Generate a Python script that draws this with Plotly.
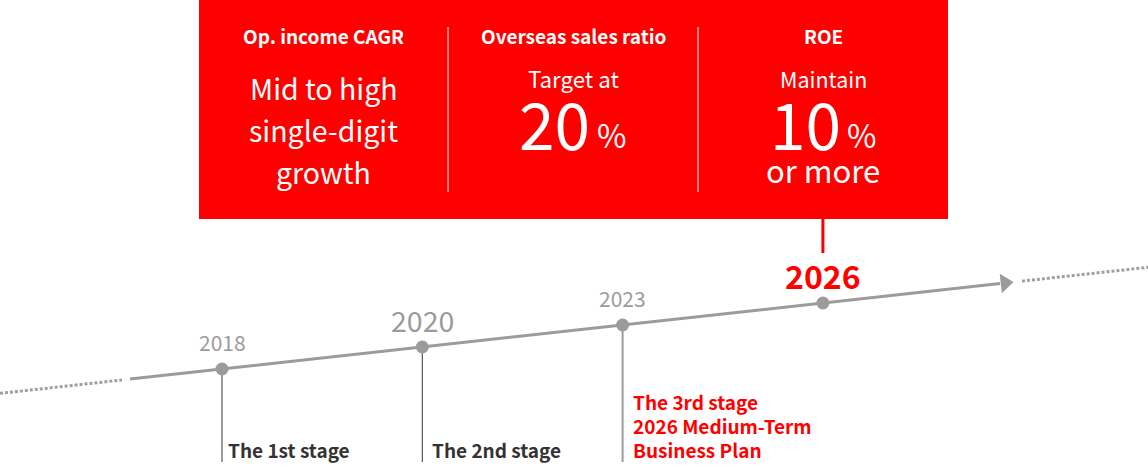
import plotly.graph_objects as go

# --- dados ---
years = ["2018", "2020", "2023", "2026"]
stage_labels = [
    ["The 1st stage"],
    ["The 2nd stage"],
    ["The 3rd stage", "2026 Medium-Term", "Business Plan"],
]
kpi_titles = ["Op. income CAGR", "Overseas sales ratio", "ROE"]
cagr_text = ["Mid to high", "single-digit", "growth"]
overseas_lead = "Target at"
overseas_value = 20
roe_lead = "Maintain"
roe_value = 10
roe_tail = "or more"

FONT = "Noto Sans CJK JP"
RED = "#ff0000"
GREY = "#9b9b9b"
DARK = "#333333"
W, H = 1148, 474

# geometria da linha do tempo (pixels)
X0, STEP = 222, 200.3
Y0, RISE = 369, 22.0
SLOPE = RISE / STEP


def line_y(x):
    return Y0 - SLOPE * (x - X0)


dot_x = [X0 + STEP * i for i in range(len(years))]
dot_y = [line_y(x) for x in dot_x]

fig = go.Figure()

# linhas pontilhadas nas pontas
for xa, xb in [(0, 122), (1022, W)]:
    fig.add_trace(go.Scatter(
        x=[xa, xb], y=[line_y(xa), line_y(xb)], mode="lines",
        line=dict(color="#a0a0a0", width=3, dash="3px,2px"), hoverinfo="skip"
    ))

# linha principal + seta
fig.add_trace(go.Scatter(
    x=[130, 1000], y=[line_y(130), line_y(1000)], mode="lines",
    line=dict(color=GREY, width=3), hoverinfo="skip"
))
fig.add_trace(go.Scatter(
    x=[1005], y=[line_y(1005)], mode="markers",
    marker=dict(symbol="triangle-right", size=17, color=GREY, angle=-6.3),
    hoverinfo="skip"
))

shapes = []
# hastes verticais
stem_colors = [GREY, DARK, GREY]
stem_widths = [2, 1, 2]
for i in range(3):
    shapes.append(dict(type="line", xref="x", yref="y",
                       x0=dot_x[i], x1=dot_x[i], y0=dot_y[i], y1=462,
                       line=dict(color=stem_colors[i], width=stem_widths[i]), layer="below"))

# caixa vermelha
shapes.append(dict(type="rect", xref="x", yref="y", x0=199, x1=948, y0=0, y1=219,
                   fillcolor=RED, line=dict(width=0), layer="below"))
for xd in [448, 698]:
    shapes.append(dict(type="line", xref="x", yref="y", x0=xd, x1=xd, y0=27, y1=192,
                       line=dict(color="white", width=1)))
# conector 2026
shapes.append(dict(type="line", xref="x", yref="y", x0=dot_x[3], x1=dot_x[3], y0=219, y1=253,
                   line=dict(color=RED, width=3)))

# pontos
fig.add_trace(go.Scatter(
    x=dot_x, y=dot_y, mode="markers",
    marker=dict(size=13, color=GREY), hoverinfo="skip"
))

annotations = []


def txt(x, y, s, size, color, xanchor="center", bold=False):
    if bold:
        s = "<b>" + s + "</b>"
    annotations.append(dict(
        x=x, y=y, xref="x", yref="y", text=s, showarrow=False,
        xanchor=xanchor, yanchor="middle",
        font=dict(family=FONT, size=size, color=color)
    ))


# anos
year_sizes = [21, 28.5, 21, 32]
year_colors = [GREY, GREY, GREY, RED]
year_bold = [False, False, False, True]
for i, yr in enumerate(years):
    txt(dot_x[i], dot_y[i] - 25 - 0.1 * year_sizes[i], yr, year_sizes[i], year_colors[i],
        bold=year_bold[i])

# estágios
stage_colors = [DARK, DARK, RED]
stage_dx = [4, 8, 8]
for i, lines in enumerate(stage_labels):
    n = len(lines)
    for k, ln in enumerate(lines):
        yc = 451 - 24 * (n - 1 - k)
        txt(dot_x[i] + stage_dx[i], yc - 2, ln, 19, stage_colors[i], xanchor="left", bold=True)

# KPIs
col_c = [199 + 749 / 6 * (2 * j + 1) for j in range(3)]
for j, t in enumerate(kpi_titles):
    txt(col_c[j], 37 - 2, t, 19, "white", bold=True)

for k, ln in enumerate(cagr_text):
    txt(col_c[0], 90 + 42 * k - 3, ln, 28.5, "white")

txt(col_c[1], 80 - 2, overseas_lead, 22.3, "white")
txt(col_c[1] - 19, 128 - 6, str(overseas_value), 64, "white")
txt(col_c[1] + 38, 137 - 3, "%", 32, "white")

txt(col_c[2], 80 - 2, roe_lead, 21.5, "white")
txt(col_c[2] - 17.5, 128 - 6, str(roe_value), 64, "white")
txt(col_c[2] + 38, 137 - 3, "%", 32, "white")
txt(col_c[2], 172 - 3, roe_tail, 31, "white")

fig.update_layout(
    width=W, height=H,
    margin=dict(l=0, r=0, t=0, b=0),
    paper_bgcolor="white", plot_bgcolor="white",
    showlegend=False,
    xaxis=dict(range=[0, W], visible=False, fixedrange=True),
    yaxis=dict(range=[H, 0], visible=False, fixedrange=True),
    shapes=shapes,
    annotations=annotations,
)

fig.write_html("out.html", config={"displayModeBar": False},
               post_script="document.body.style.margin='0';")
